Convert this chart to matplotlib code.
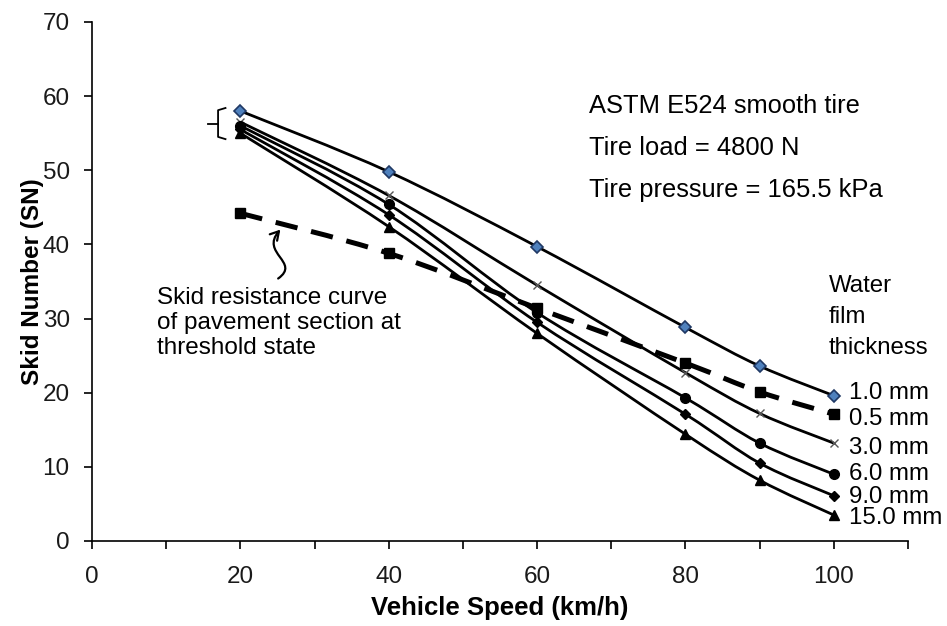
import numpy as np
import matplotlib
matplotlib.use("Agg")
import matplotlib.pyplot as plt
from matplotlib.path import Path
from matplotlib.patches import PathPatch, FancyArrowPatch

plt.rcParams['font.family'] = ['Liberation Sans', 'DejaVu Sans']

# Velocidades (km/h) e números de atrito
speed = [20, 40, 60, 80, 90, 100]
sn_1mm = [58.0, 49.8, 39.7, 28.8, 23.6, 19.6]
sn_05mm = [44.2, 38.8, 31.4, 24.0, 20.1, 17.1]
sn_3mm = [56.5, 46.6, 34.5, 22.7, 17.2, 13.2]
sn_6mm = [56.0, 45.4, 30.8, 19.3, 13.2, 9.0]
sn_9mm = [55.5, 44.0, 29.5, 17.1, 10.5, 6.1]
sn_15mm = [55.0, 42.4, 28.0, 14.4, 8.2, 3.5]

labels = ["1.0 mm", "0.5 mm", "3.0 mm", "6.0 mm", "9.0 mm", "15.0 mm"]


def smooth_path(x, y, t=1/6):
    # curva suavizada tipo Excel (Catmull-Rom -> Bezier)
    pts = np.column_stack([x, y]).astype(float)
    verts = [pts[0]]
    codes = [Path.MOVETO]
    n = len(pts)
    for i in range(n - 1):
        p0 = pts[i - 1] if i > 0 else pts[i]
        p1 = pts[i]
        p2 = pts[i + 1]
        p3 = pts[i + 2] if i + 2 < n else pts[i + 1]
        c1 = p1 + (p2 - p0) * t
        c2 = p2 - (p3 - p1) * t
        verts += [c1, c2, p2]
        codes += [Path.CURVE4] * 3
    return Path(verts, codes)


fig = plt.figure(figsize=(9.47, 6.26), dpi=100)
ax = fig.add_axes([0.0971, 0.1358, 0.8617, 0.8291])

solid = [
    (sn_1mm, dict(marker='D', ms=6, mfc='#4F81BD', mec='#1F3864', mew=1.2)),
    (sn_3mm, dict(marker='x', ms=6, mfc='#555555', mec='#555555', mew=1.0)),
    (sn_6mm, dict(marker='o', ms=7, mfc='black', mec='black')),
    (sn_9mm, dict(marker='D', ms=5, mfc='black', mec='black')),
    (sn_15mm, dict(marker='^', ms=7, mfc='black', mec='black')),
]
for vals, mk in solid:
    ax.add_patch(PathPatch(smooth_path(speed, vals), fill=False, lw=2.0,
                           ec='black', zorder=2))
    ax.plot(speed, vals, ls='none', zorder=3, **mk)

# curva da seção no estado limite (tracejada)
ax.add_patch(PathPatch(smooth_path(speed, sn_05mm), fill=False, lw=3.6,
                       ec='black', ls=(0, (4.5, 2.8)), zorder=2))
ax.plot(speed, sn_05mm, ls='none', marker='s', ms=7, mfc='black',
        mec='black', zorder=3)

ax.set_xlim(0, 110)
ax.set_ylim(0, 70)
ax.set_xticks(np.arange(0, 111, 10))
ax.set_xticklabels([str(v) if v % 20 == 0 and v <= 100 else '' for v in range(0, 111, 10)])
ax.set_yticks(np.arange(0, 71, 10))
ax.tick_params(axis='both', direction='out', length=6, width=1.2,
               labelsize=17.5, colors='black')
ax.tick_params(axis='x', pad=12)
ax.tick_params(axis='y', pad=10)
for lab in ax.get_xticklabels() + ax.get_yticklabels():
    lab.set_color('#1a1a1a')
ax.spines['top'].set_visible(False)
ax.spines['right'].set_visible(False)
for s in ['left', 'bottom']:
    ax.spines[s].set_linewidth(1.2)

ax.set_xlabel("Vehicle Speed (km/h)", fontsize=18.5, fontweight='bold', labelpad=6)
ax.set_ylabel("Skid Number (SN)", fontsize=17.5, fontweight='bold', labelpad=-1)

# textos de condição do ensaio
info = ["ASTM E524 smooth tire", "Tire load = 4800 N", "Tire pressure = 165.5 kPa"]
for i, t in enumerate(info):
    ax.text(67.0, 58.6 - i * 5.6, t, fontsize=18.4, va='center', ha='left')

ax.text(99.3, 30.2, "Water\nfilm\nthickness", fontsize=17.3, va='center',
        ha='left', linespacing=1.55, clip_on=False)

label_y = [19.9, 16.5, 12.6, 9.0, 6.0, 3.1]
for t, yy in zip(labels, label_y):
    ax.text(102.0, yy, t, fontsize=17.3, va='center', ha='left', clip_on=False)

ax.text(8.8, 29.4, "Skid resistance curve\nof pavement section at\nthreshold state",
        fontsize=17.5, va='center', ha='left', linespacing=1.15)

# seta ondulada
squiggle = Path([(25.1, 35.4), (28.2, 37.6), (22.6, 38.8), (25.4, 42.0)],
                [Path.MOVETO, Path.CURVE4, Path.CURVE4, Path.CURVE4])
ax.add_patch(FancyArrowPatch(path=squiggle, arrowstyle='->,head_length=6,head_width=3.5',
                             lw=1.6, color='black', zorder=4))

# chave agrupando os pontos em 20 km/h
ax.plot([18.0, 17.0, 17.0, 18.0], [58.4, 58.1, 54.5, 54.2], color='black',
        lw=1.3, clip_on=False)
ax.plot([15.6, 17.0], [56.3, 56.3], color='black', lw=1.3)

fig.savefig("out.png", dpi=100)
